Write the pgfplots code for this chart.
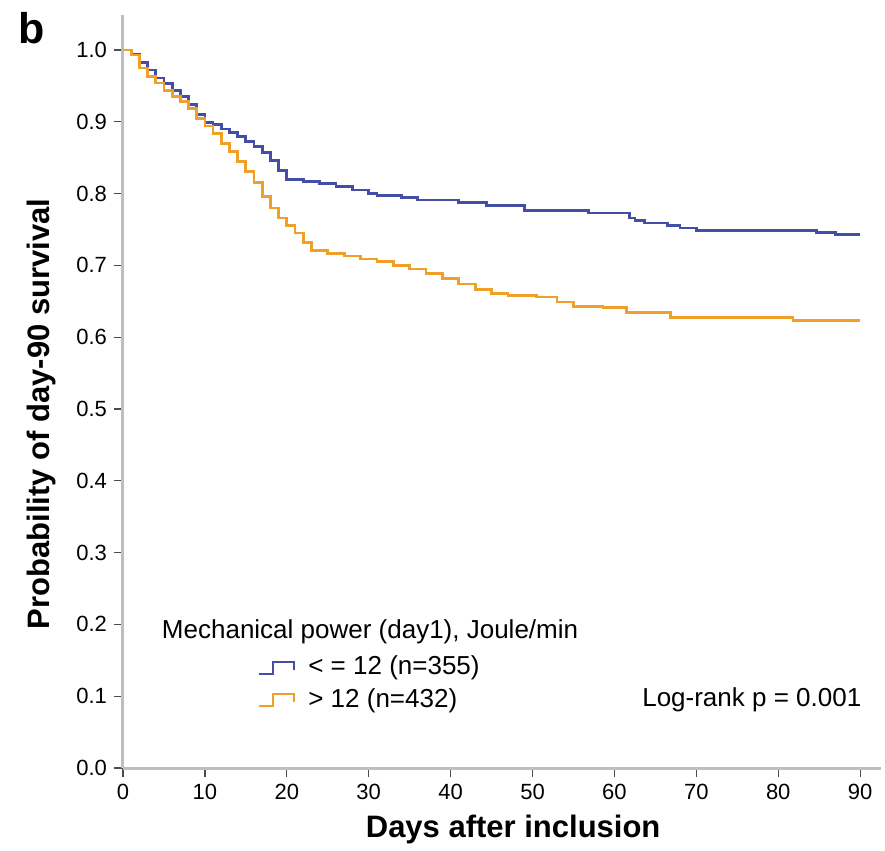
\documentclass[border=0pt]{standalone}
\usepackage{pgfplots}
\pgfplotsset{compat=1.18}
\usepackage{fontspec}
\setmainfont{Liberation Sans}
\definecolor{kmblue}{RGB}{68,78,165}
\definecolor{kmorange}{RGB}{240,160,40}
\definecolor{axgray}{RGB}{190,190,190}
\begin{document}
\begin{tikzpicture}
\begin{axis}[
  scale only axis, width=378.8bp, height=376.6bp,
  xmin=0, xmax=92.5, ymin=0, ymax=1.049,
  clip=false,
  axis lines=left,
  axis line style={-, draw=axgray, line width=1.5bp},
  xtick={0,10,20,30,40,50,60,70,80,90},
  ytick={0,0.1,0.2,0.3,0.4,0.5,0.6,0.7,0.8,0.9,1.0},
  yticklabel style={/pgf/number format/.cd, fixed, fixed zerofill, precision=1},
  tick align=outside,
  major tick length=4.5bp,
  tick style={draw=black!70, line width=0.6bp},
  ticklabel style={font=\fontsize{11bp}{13bp}\selectfont},
  /pgf/number format/assume math mode=true,
  xlabel={Days after inclusion},
  ylabel={Probability of day-90 survival},
  xlabel style={font=\fontsize{15.5bp}{18bp}\selectfont\bfseries, at={(axis description cs:0.515,-0.082)}, anchor=center},
  ylabel style={font=\fontsize{15.5bp}{18bp}\selectfont\bfseries, at={(axis description cs:-0.107,0.47)}, anchor=center},
  legend cell align=left,
  legend style={at={(axis cs:16.4,0.14)}, anchor=north west, yshift=6.5bp,
    draw=none, fill=none, inner sep=0pt, row sep=3.2bp,
    font=\fontsize{13bp}{15bp}\selectfont,
    nodes={inner sep=0pt, text height=10bp, text depth=3bp}},
  legend image code/.code={\draw[#1, line width=1.2bp] (0bp,-3bp) -- (7bp,-3bp) -- (7bp,3bp) -- (17.5bp,3bp) -- (17.5bp,-1bp); \path (24bp,0bp);},
]
\addplot[const plot, kmblue, line width=1.4bp] coordinates {
(0,1.000) (1,0.994) (2,0.983) (3,0.972) (4,0.961) (5,0.953) (6,0.944) (7,0.935)
(8,0.924) (9,0.910) (10,0.899) (11,0.896) (12,0.890) (13,0.885) (14,0.879)
(15,0.873) (16,0.866) (17,0.857) (18,0.846) (19,0.832) (20,0.820) (22,0.817)
(24,0.814) (26,0.810) (28,0.805) (30,0.800) (31,0.797) (34,0.794) (36,0.791)
(41,0.788) (44.4,0.783) (49,0.777) (56.8,0.773) (61.8,0.766) (62.5,0.763)
(63.7,0.759) (66.5,0.756) (68,0.752) (70,0.749) (84.7,0.746) (87,0.743) (90,0.743)};
\addlegendentry{< = 12 (n=355)}
\addplot[const plot, kmorange, line width=1.4bp] coordinates {
(0,1.000) (1,0.993) (2,0.975) (3,0.963) (4,0.954) (5,0.944) (6,0.935) (7,0.928)
(8,0.919) (9,0.905) (10,0.894) (11,0.884) (12,0.870) (13,0.859) (14,0.845)
(15,0.831) (16,0.815) (17,0.796) (18,0.780) (19,0.766) (20,0.755) (21,0.745)
(22,0.732) (23,0.721) (25,0.717) (27,0.713) (29,0.709) (31,0.705) (33,0.700)
(35,0.695) (37,0.689) (39,0.682) (41,0.674) (43,0.666) (45,0.661) (47,0.658)
(50.5,0.656) (53,0.649) (55,0.643) (58.6,0.641) (61.5,0.634) (66.8,0.627)
(81.8,0.623) (90,0.623)};
\addlegendentry{> 12 (n=432)}
\node[anchor=west, font=\fontsize{13bp}{15bp}\selectfont] at (axis cs:3.9,0.19) {Mechanical power (day1), Joule/min};
\node[anchor=east, font=\fontsize{13bp}{15bp}\selectfont] at (axis cs:91,0.095) {Log-rank p = 0.001};
\node[font=\fontsize{21.5bp}{25bp}\selectfont\bfseries] at (axis description cs:-0.121,0.982) {b};
\path (axis description cs:0,0) ++(-61.5bp,-40bp) rectangle ++(442.5bp,424bp);
\end{axis}
\end{tikzpicture}
\end{document}
